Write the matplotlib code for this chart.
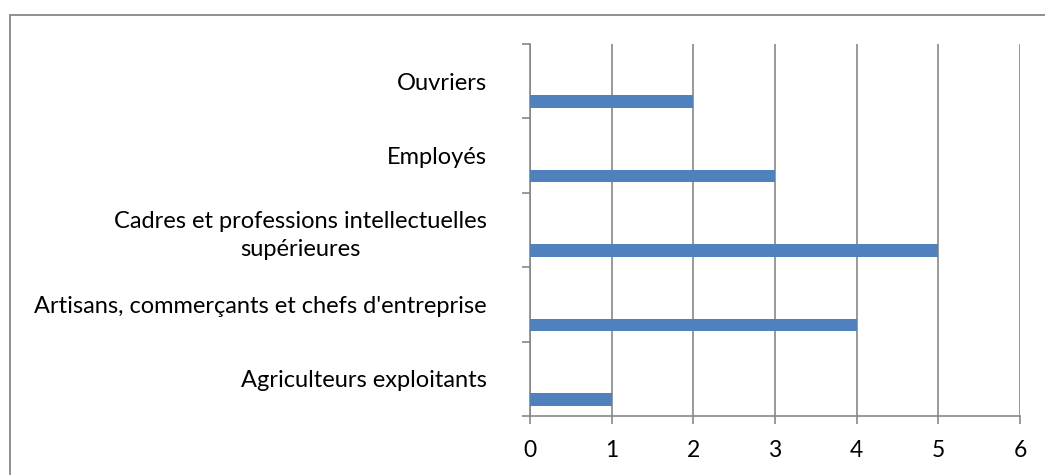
import matplotlib
matplotlib.use("Agg")
import matplotlib.pyplot as plt
from matplotlib.patches import Rectangle
import numpy as np

categories = ["Agriculteurs exploitants",
              "Artisans, commerçants et chefs d'entreprise",
              "Cadres et professions intellectuelles\nsupérieures",
              "Employés",
              "Ouvriers"]
values = [1, 4, 5, 3, 2]
xticks = [0, 1, 2, 3, 4, 5, 6]

GRID = "#878787"
BAR = "#4F81BD"
W, H = 1045, 475

plt.rcParams["font.family"] = ["Lato", "DejaVu Sans"]

fig = plt.figure(figsize=(W / 100, H / 100), dpi=100)
fig.patch.set_facecolor("white")

# outer chart border (cropped at right and bottom in the original)
fig.patches.append(Rectangle((10 / W, -0.1), 1.2, 1 - 15 / H + 0.1,
                             transform=fig.transFigure, fill=False,
                             edgecolor=GRID, linewidth=1.3))

ax = fig.add_axes([530 / W, (H - 416) / H, 490 / W, 372 / H])
y = np.arange(len(categories))
ax.barh(y + 0.5 - 0.275, values, height=0.17, color=BAR, zorder=3)

ax.set_xlim(0, 6)
ax.set_ylim(0, len(categories))
ax.set_xticks(xticks)
ax.set_xticklabels([str(t) for t in xticks], fontsize=16.5)
ax.xaxis.grid(True, color=GRID, linewidth=1.2, zorder=0)
ax.tick_params(axis="x", length=6, width=1.2, color=GRID, pad=11, labelcolor="black")

ax.set_yticks(y + 0.5)
ax.set_yticklabels(categories, fontsize=17)
ax.set_yticks(np.arange(len(categories) + 1), minor=True)
ax.tick_params(axis="y", which="major", length=0, pad=31)
ax.tick_params(axis="y", which="minor", length=6, width=1.2, color=GRID)
for lab in ax.get_yticklabels():
    lab.set_multialignment("center")
    lab.set_linespacing(1.4)

for s in ("top", "right"):
    ax.spines[s].set_visible(False)
for s in ("left", "bottom"):
    ax.spines[s].set_color(GRID)
    ax.spines[s].set_linewidth(1.2)

fig.savefig("out.png", dpi=100, facecolor="white")
